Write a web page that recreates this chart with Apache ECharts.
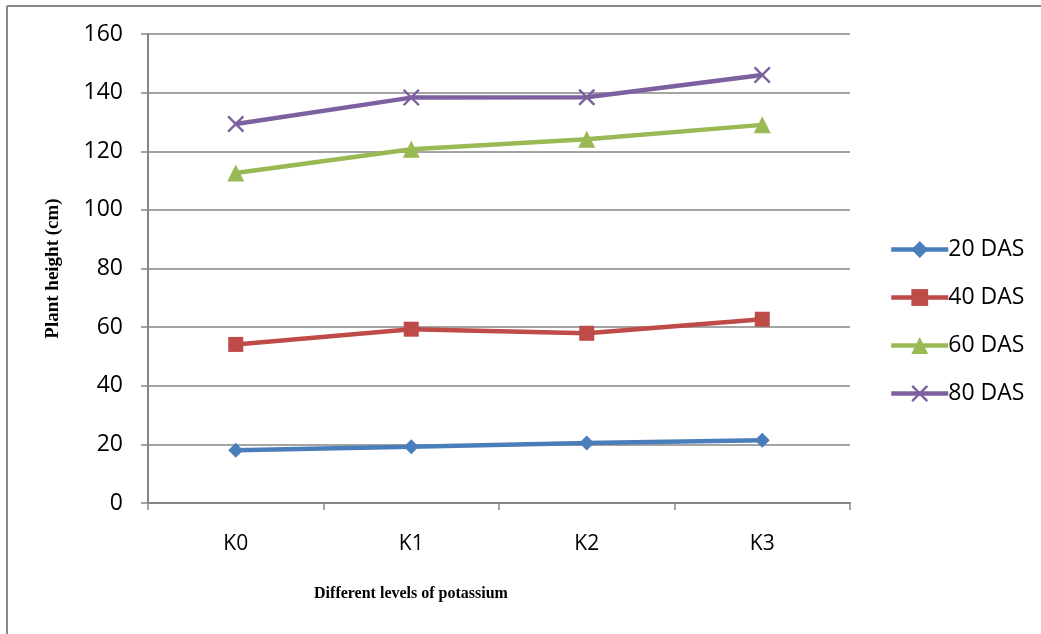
<!DOCTYPE html>
<html>
<head>
<meta charset="utf-8">
<script src="https://cdn.jsdelivr.net/npm/echarts@6/dist/echarts.min.js"></script>
<style>
html,body{margin:0;padding:0;background:#fff;}
#c{width:1041px;height:634px;}
</style>
</head>
<body>
<div id="c"></div>
<script>
const categories = ['K0', 'K1', 'K2', 'K3'];
const das20 = [18.0, 19.2, 20.5, 21.4];
const das40 = [54.1, 59.3, 57.9, 62.7];
const das60 = [112.6, 120.7, 124.1, 129.0];
const das80 = [129.3, 138.3, 138.4, 146.0];
const seriesNames = ['20 DAS', '40 DAS', '60 DAS', '80 DAS'];
const yTicks = {min: 0, max: 160, interval: 20};

const colors = ['#4a7ebb', '#be4b48', '#98b954', '#7d60a0'];
const crossPath = 'path://M0,1 L1,0 L10,9 L9,10 Z M9,0 L10,1 L1,10 L0,9 Z';
const symbols = ['diamond', 'rect', 'triangle', crossPath];
const symbolSizes = [15, 15, 17, 17];
const allData = [das20, das40, das60, das80];

const chart = echarts.init(document.getElementById('c'), null, {renderer: 'canvas'});
const labelFont = '"Open Sans", "Noto Sans", sans-serif';
const catFont = '"Open Sans", sans-serif';
const serif = '"Liberation Serif", "DejaVu Serif", serif';

chart.setOption({
  animation: false,
  backgroundColor: '#ffffff',
  color: colors,
  grid: {left: 148, right: 191, top: 34, bottom: 131, containLabel: false},
  legend: {
    orient: 'vertical',
    left: 889,
    top: 238,
    padding: 0,
    itemWidth: 57,
    itemHeight: 21,
    itemGap: 25,
    data: seriesNames,
    lineStyle: {width: 4.5},
    textStyle: {fontFamily: labelFont, fontSize: 23, color: '#000', lineHeight: 22, padding: [0, 0, 0, -5]}
  },
  xAxis: {
    type: 'category',
    data: categories,
    boundaryGap: true,
    axisLine: {show: true, lineStyle: {color: '#868686', width: 2}},
    axisTick: {show: true, length: 7, lineStyle: {color: '#868686', width: 1.5}},
    axisLabel: {margin: 31, fontFamily: catFont, fontSize: 21, color: '#000'},
    splitLine: {show: false},
    name: 'Different levels of potassium',
    nameLocation: 'middle',
    nameGap: 83,
    nameTextStyle: {fontFamily: serif, fontWeight: 'bold', fontSize: 16, color: '#000', padding: [0, 176, 0, 0]}
  },
  yAxis: {
    type: 'value',
    min: yTicks.min,
    max: yTicks.max,
    interval: yTicks.interval,
    axisLine: {show: true, lineStyle: {color: '#868686', width: 2}},
    axisTick: {show: true, length: 7, lineStyle: {color: '#868686', width: 1.5}},
    axisLabel: {margin: 25, fontFamily: labelFont, fontSize: 23, color: '#000'},
    splitLine: {show: true, lineStyle: {color: '#868686', width: 1.5}},
    name: 'Plant height (cm)',
    nameLocation: 'middle',
    nameGap: 85,
    nameTextStyle: {fontFamily: serif, fontWeight: 'bold', fontSize: 19, color: '#000', padding: [0, 0, 0, 0]}
  },
  graphic: [
    {type: 'line', shape: {x1: 7, y1: 6, x2: 1041, y2: 6}, style: {stroke: '#888', lineWidth: 2}, silent: true},
    {type: 'line', shape: {x1: 7, y1: 6, x2: 7, y2: 634}, style: {stroke: '#888', lineWidth: 2}, silent: true}
  ],
  series: seriesNames.map((n, i) => ({
    name: n,
    type: 'line',
    data: allData[i],
    symbol: symbols[i],
    symbolSize: symbolSizes[i],
    showSymbol: true,
    lineStyle: {width: 4.5, color: colors[i]},
    itemStyle: {color: colors[i], borderWidth: 0, opacity: 1},
    emphasis: {disabled: true}
  }))
});
</script>
</body>
</html>
